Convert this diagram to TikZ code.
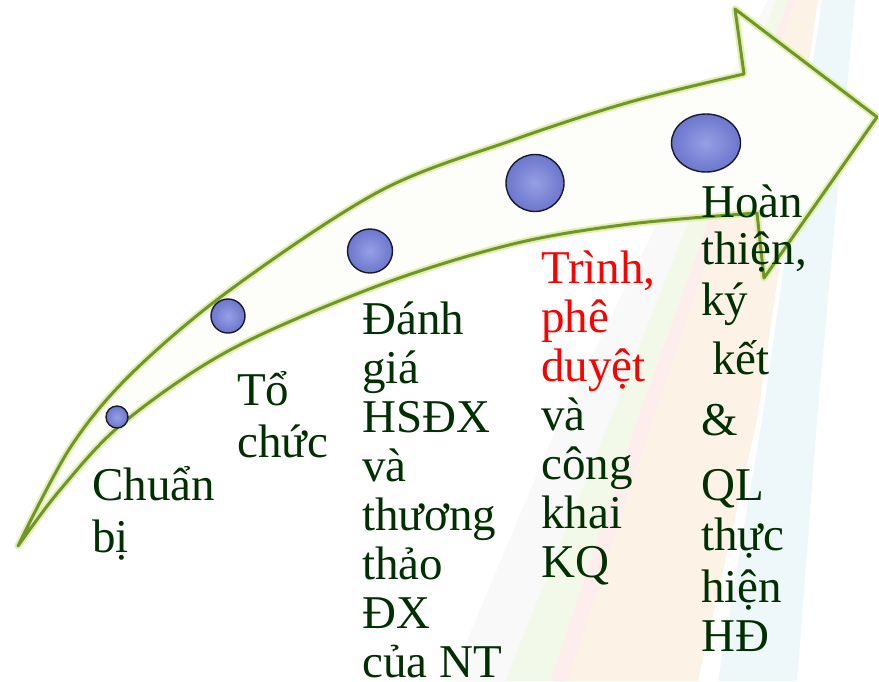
\documentclass[tikz,border=0pt]{standalone}
\usepackage{fontspec}
\setmainfont{Liberation Serif}
\usetikzlibrary{shapes.geometric}

\definecolor{darkgreen}{RGB}{0,48,0}
\definecolor{arrowgreen}{RGB}{112,150,40}
\definecolor{arrowglow}{RGB}{226,239,178}
\definecolor{arrowfill}{RGB}{253,254,249}
\definecolor{orb}{RGB}{108,118,205}
\definecolor{orblight}{RGB}{150,160,228}
\definecolor{orbline}{RGB}{25,25,45}
\definecolor{bandgrey}{RGB}{249,249,249}
\definecolor{bandgreen}{RGB}{243,249,232}
\definecolor{bandpink}{RGB}{253,237,236}
\definecolor{bandpeach}{RGB}{253,242,230}
\definecolor{bandblue}{RGB}{238,247,250}

\tikzset{
  dot/.style={ellipse, draw=orbline, line width=1.4pt, inner sep=0pt,
    shading=radial, inner color=orblight, outer color=orb},
  steptext/.style={anchor=base west, align=left, inner sep=0pt,
    font=\fontsize{47}{49}\selectfont, text=darkgreen},
  arrowbody/.style={fill=arrowfill,
    postaction={draw=arrowglow, line width=7pt, line join=round},
    postaction={draw=arrowgreen, line width=3pt, line join=round}}
}

\begin{document}
\begin{tikzpicture}[x=1pt,y=-1pt]
\useasboundingbox (0,0) rectangle (879,681);
\fill[white] (0,0) rectangle (879,681);

% background bands
\fill[bandgrey] (768,0) -- (776,0) -- (610,420) -- (505,681) -- (450,681) -- (560,420) -- cycle;
\fill[bandgreen] (776,0) -- (788,0) -- (637,420) -- (550,681) -- (505,681) -- (610,420) -- cycle;
\fill[bandpink] (788,0) -- (795,0) -- (653,420) -- (568,681) -- (550,681) -- (637,420) -- cycle;
\fill[bandpeach] (795,0) -- (818,0) -- (757,420) -- (698,681) -- (568,681) -- (653,420) -- cycle;
\fill[bandblue] (822,0) -- (855,0) -- (817,420) -- (797,681) -- (718,681) -- (762,420) -- cycle;

% the curved arrow
\path[arrowbody] plot[smooth, tension=0.55] coordinates {(18,546) (70,448) (130,375) (230,290) (380,191) (513,140) (630,102) (744,74)}
  -- (735,9) -- (877,117) -- (764,278) -- (757,213)
  -- plot[smooth, tension=0.55] coordinates {(757,213) (630,224) (513,244) (380,285) (230,350) (123,423) (60,490) (18,546)} -- cycle;

% dots along the arrow
\node[dot, minimum width=22pt, minimum height=22pt] (dot1) at (117,417) {};
\node[dot, minimum width=34pt, minimum height=34pt] (dot2) at (228,316) {};
\node[dot, minimum width=45pt, minimum height=44pt] (dot3) at (370,251) {};
\node[dot, minimum width=58pt, minimum height=57pt] (dot4) at (535,183) {};
\node[dot, minimum width=69pt, minimum height=58pt] (dot5) at (706,143) {};

% steps (anchored at the baseline of the last line)
\node[steptext] (lbl1) at (92,552) {Chuẩn\\[3pt]bị};
\node[steptext] (lbl2) at (237,457) {Tổ\\[3pt]chức};
\node[steptext] (lbl3) at (362,677) {Đánh\\giá\\HSĐX\\và\\thương\\thảo\\ĐX\\của NT};
\node[steptext] (lbl4) at (541,577) {\textcolor{red}{Trình,}\\\textcolor{red}{phê}\\\textcolor{red}{duyệt}\\và\\công\\khai\\KQ};
\node[steptext] (lbl5) at (701,651) {Hoàn\\[-2pt]thiện,\\[2pt]ký\\[10pt]\hspace{11pt}kết\\[12pt]\&\\[16pt]QL\\[1pt]thực\\[3pt]hiện\\HĐ};
\end{tikzpicture}
\end{document}
